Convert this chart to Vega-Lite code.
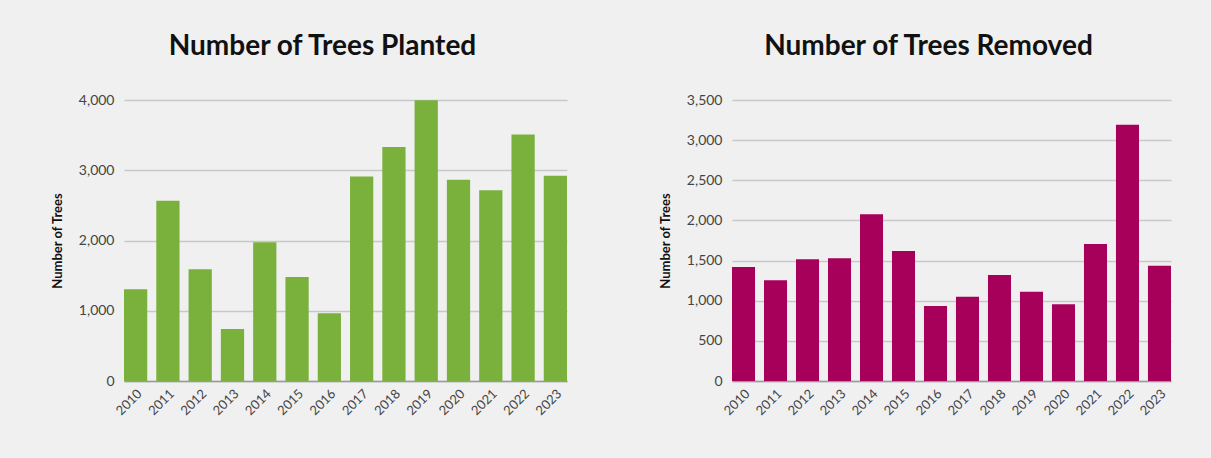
{
  "$schema": "https://vega.github.io/schema/vega-lite/v6.json",
  "background": "#f0f0f0",
  "padding": {"left": 51, "top": 33, "right": 42, "bottom": 45},
  "spacing": 92,
  "datasets": {
    "planted": [
      {"year": "2010", "trees": 1305},
      {"year": "2011", "trees": 2565},
      {"year": "2012", "trees": 1590},
      {"year": "2013", "trees": 740},
      {"year": "2014", "trees": 1975},
      {"year": "2015", "trees": 1480},
      {"year": "2016", "trees": 963},
      {"year": "2017", "trees": 2910},
      {"year": "2018", "trees": 3330},
      {"year": "2019", "trees": 3995},
      {"year": "2020", "trees": 2866},
      {"year": "2021", "trees": 2714},
      {"year": "2022", "trees": 3510},
      {"year": "2023", "trees": 2923}
    ],
    "removed": [
      {"year": "2010", "trees": 1420},
      {"year": "2011", "trees": 1254},
      {"year": "2012", "trees": 1515},
      {"year": "2013", "trees": 1528},
      {"year": "2014", "trees": 2076},
      {"year": "2015", "trees": 1619},
      {"year": "2016", "trees": 934},
      {"year": "2017", "trees": 1050},
      {"year": "2018", "trees": 1320},
      {"year": "2019", "trees": 1112},
      {"year": "2020", "trees": 955},
      {"year": "2021", "trees": 1706},
      {"year": "2022", "trees": 3192},
      {"year": "2023", "trees": 1436}
    ]
  },
  "config": {
    "view": {"stroke": null},
    "font": "Lato",
    "axis": {
      "labelFont": "Lato",
      "labelFontSize": 13,
      "labelColor": "#444444",
      "titleFont": "Lato",
      "titleFontSize": 13,
      "titleFontWeight": "bold",
      "titleColor": "#111111"
    },
    "axisY": {
      "domain": false,
      "ticks": false,
      "grid": true,
      "gridColor": "#c8c8c8",
      "gridWidth": 1.5,
      "labelFontSize": 14,
      "labelPadding": 10,
      "titlePadding": 14
    },
    "axisX": {
      "domain": true,
      "domainColor": "#9a9a9a",
      "domainWidth": 1.5,
      "ticks": false,
      "grid": false,
      "labelAngle": -45,
      "labelPadding": 6,
      "title": null
    },
    "title": {
      "font": "Lato",
      "fontSize": 28,
      "fontWeight": "bold",
      "color": "#111111",
      "anchor": "middle",
      "frame": "group",
      "baseline": "alphabetic",
      "offset": 32,
      "dx": -23
    }
  },
  "hconcat": [
    {
      "title": "Number of Trees Planted",
      "width": 443,
      "height": 281,
      "data": {"name": "planted"},
      "mark": {"type": "bar", "color": "#7ab13c"},
      "encoding": {
        "x": {"field": "year", "type": "ordinal", "scale": {"paddingInner": 0.28, "paddingOuter": 0}},
        "y": {"field": "trees", "type": "quantitative", "title": "Number of Trees", "scale": {"domain": [0, 4000]}, "axis": {"values": [0, 1000, 2000, 3000, 4000], "format": ",d"}}
      }
    },
    {
      "title": "Number of Trees Removed",
      "width": 439,
      "height": 281,
      "data": {"name": "removed"},
      "mark": {"type": "bar", "color": "#a6005a"},
      "encoding": {
        "x": {"field": "year", "type": "ordinal", "scale": {"paddingInner": 0.28, "paddingOuter": 0}},
        "y": {"field": "trees", "type": "quantitative", "title": "Number of Trees", "scale": {"domain": [0, 3500]}, "axis": {"values": [0, 500, 1000, 1500, 2000, 2500, 3000, 3500], "format": ",d"}}
      }
    }
  ]
}
